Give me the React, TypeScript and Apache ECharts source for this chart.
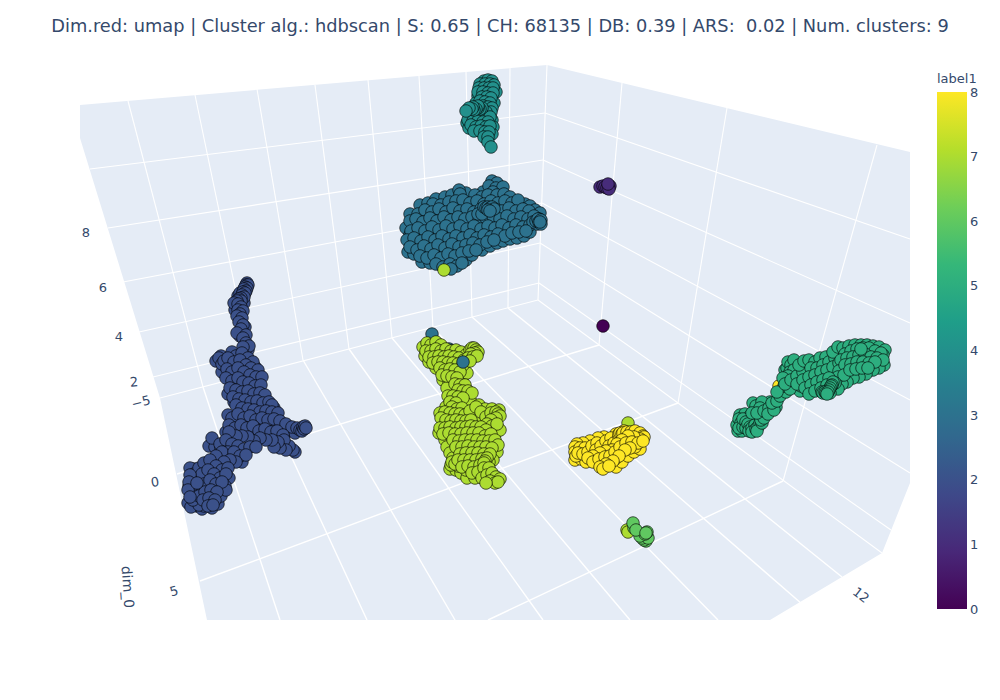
import React, { useEffect, useRef } from "react";
import * as echarts from "echarts";

const titleText = "Dim.red: umap | Cluster alg.: hdbscan | S: 0.65 | CH: 68135 | DB: 0.39 | ARS:  0.02 | Num. clusters: 9";
const viridis = ["#440154", "#482878", "#3e4989", "#31688e", "#26828e", "#1f9e89", "#35b779", "#6ece58", "#b5de2b", "#fde725"];

// Scene outline and grid in projected scene coordinates
const wallOutline = [[80,105],[547,65],[910,152],[910,483],[882,553],[770,620],[207,620],[160,398],[80,138]];
const leftWallLines = [
  [128,101,203,387],[195,95,253,374],[257,89,303,360],[315,85,349,349],[368,80,392,338],[419,76,433,328],[466,72,472,317],[510,67,508,308],[547,65,538,300],
  [90,169,545,113],[108,228,543,160],[123,282,542,203],[139,332,540,243],[153,377,539,283],[160,398,538,300],
];
const rightWallLines = [
  [622,83,599,345],[727,108,678,403],[877,145,783,481],
  [545,113,910,239],[543,160,910,323],[542,203,910,400],[540,243,910,473],[539,283,891,530],[538,300,882,553],
];
const floorLines = [
  [599,345,177,474],[678,403,200,581],[783,481,488,620],
  [203,387,280,620],[253,374,367,620],[303,360,455,620],[349,349,543,620],[392,338,630,620],[433,328,718,620],[472,317,802,604],[508,308,842,577],
];

const label0 = [[603,326]];
const label1 = [[600,187],[603,186],[605,187],[607,188],[610,186],[609,189],[608,184]];
const label2 = [
  [226,432],[233,438],[209,446],[215,447],[221,448],[218,459],[212,465],[206,468],[200,472],[194,469],[229,478],
  [216,361],[221,356],[229,364],[236,366],[243,358],[255,367],[222,372],[230,376],[236,384],[241,387],[247,378],[253,380],[259,381],[228,394],[234,402],[247,396],[259,397],[266,407],[240,412],[246,404],[252,406],[258,407],[274,408],[228,415],[235,421],[245,423],[252,422],[265,424],[271,425],[277,425],[283,429],[289,431],[295,433],[240,431],[250,433],[256,435],[262,433],[268,436],[274,436],[280,437],[228,445],[233,456],[242,462],
  [189,486],[193,492],[196,498],[200,490],[207,488],[213,486],[219,488],[225,486],[197,506],[212,508],[218,504],[221,496],[226,490],[196,476],[192,486],[198,480],[201,484],
  [238,296],[240,293],[236,306],[244,303],[235,310],[245,327],[240,336],[248,350],
  [247,283],[246,285],[248,285],[245,287],[247,288],[244,289],[246,291],[243,292],[245,293],[242,295],[244,297],[241,298],[239,299],[241,301],[237,301],[234,303],[238,304],
  [241,307],[238,310],[243,311],[240,314],[237,316],[242,318],[239,322],[243,325],[241,329],[237,333],[246,335],[243,338],[246,343],[249,346],[243,347],
  [219,358],[222,364],[224,361],[232,352],[236,356],[242,353],[248,358],[253,362],[228,358],[234,362],[240,360],[246,365],[251,368],[258,370],[227,369],[232,372],[238,368],[244,372],[250,375],[256,377],[262,377],
  [226,378],[232,381],[238,378],[243,382],[249,383],[255,386],[261,385],[230,388],[236,390],[242,392],[248,391],[254,394],[260,393],[265,395],[233,397],[239,399],[245,400],[251,402],[257,401],[263,403],[269,402],[272,405],
  [236,405],[242,408],[248,409],[254,410],[260,412],[266,411],[272,412],[278,413],
  [232,418],[238,414],[244,418],[250,416],[256,420],[262,418],[268,420],[274,419],[280,421],[286,424],[292,427],[297,428],[229,425],[235,428],[241,425],[247,428],[253,426],[259,431],[265,429],[271,432],[277,431],[283,435],
  [300,430],[302,431],[303,427],[304,429],[305,426],[306,428],
  [295,452],[293,450],[289,446],[284,440],[286,450],[280,448],[278,442],[274,447],[272,440],[266,440],[260,438],[254,441],[248,437],[242,436],[236,436],[229,432],
  [212,438],[220,444],[226,440],[232,444],[238,446],[244,449],[250,447],[256,447],[228,452],[222,452],[216,456],[234,452],[240,456],[246,455],[236,462],[230,460],[224,462],
  [190,468],[188,503],[191,507],[202,509],[204,506],[199,505],[193,500],[192,494],[191,488],[191,480],[194,474],[199,468],[204,463],[210,460],[216,466],[222,470],[228,468],
  [202,474],[208,470],[214,474],[220,478],[226,474],[198,488],[204,484],[210,480],[216,484],[222,482],[199,496],[205,492],[211,490],[217,492],[203,500],[209,498],[215,500],[208,506],[213,505],[194,484],[190,475],[189,482],[188,490],[190,497],[197,483],
];
const label3 = [
  [406,228],[408,252],[414,254],[422,262],[430,263],[466,260],[472,255],[482,250],[490,246],[497,243],[503,241],[510,239],[517,238],[524,236],[530,232],[410,214],[420,205],[428,203],[436,199],[445,197],[452,195],[466,193],[459,190],
  [413,226],[420,225],[427,224],[434,223],[441,224],[448,223],[455,223],[462,223],[469,222],[476,223],[483,222],[490,222],[497,222],[504,221],[511,222],[518,221],[525,222],[531,221],[410,235],[417,233],[424,234],[431,233],[438,234],[445,232],[452,233],[459,231],[466,232],[473,231],[480,232],[487,231],[494,231],[501,230],[508,231],[515,230],[413,243],[420,244],[427,243],[434,243],[441,242],[448,242],[455,241],[462,241],[469,240],[476,240],[483,240],[425,253],[432,252],[439,251],[446,251],[453,250],[460,250],[467,248],[474,248],[440,262],[447,260],[454,260],[461,259],[522,205],[517,206],[525,204],[530,206],[535,210],[540,213],[483,192],[500,198],[506,206],[512,214],[412,238],[414,240],[416,242],[418,244],
  [492,181],[497,183],[489,186],[496,188],[503,187],[493,192],
  [460,194],[475,195],[482,197],[488,195],[497,195],[504,194],[510,197],
  [433,204],[441,205],[449,202],[456,201],[463,200],[470,203],[477,201],[484,204],[491,201],[498,203],[505,201],[512,203],[518,200],
  [418,214],[425,210],[432,212],[439,209],[446,212],[453,208],[460,211],[467,209],[474,212],[481,209],[495,209],[502,211],[509,208],[516,211],[523,209],[529,211],
  [410,221],[416,219],[423,222],[430,218],[437,221],[444,217],[451,220],[458,217],[465,219],[472,217],[479,220],[486,218],[493,216],[500,219],[507,216],[514,219],[521,217],[528,219],[534,216],[539,219],
  [478,214],[482,214],[484,207],[486,208],[488,207],[490,208],[492,207],[494,209],[488,210],[490,211],
  [411,231],[418,228],[425,231],[432,227],[439,230],[446,226],[453,229],[460,226],[467,229],[474,226],[481,229],[488,226],[495,228],[502,225],[509,228],[516,225],[523,227],[530,225],[537,224],[533,222],[536,221],[538,219],[539,222],[541,220],[541,224],[540,222],
  [407,240],[414,238],[421,241],[428,237],[435,240],[442,236],[449,239],[456,236],[463,238],[470,235],[477,238],[484,235],[491,237],[498,234],[505,236],[512,233],[519,232],[526,231],
  [410,247],[417,250],[424,246],[431,249],[438,245],[445,248],[452,244],[459,247],[466,245],[473,243],[480,245],[487,242],[494,240],
  [420,256],[427,258],[434,255],[441,258],[448,254],[455,256],[462,253],[469,251],[476,250],
  [436,264],[443,267],[450,264],[457,266],[462,263],[451,269],
];
const label3Under = [[432,334],[449,349],[452,351]];
const label3Over = [[463,362]];
const label4 = [
  [496,92],[482,94],[478,96],[483,100],[476,103],[494,103],[492,120],[493,127],[492,134],[467,123],[469,128],
  [484,81],[488,80],[492,81],[480,84],[485,84],[490,84],[494,85],[479,88],[484,88],[489,88],[493,88],[478,92],[483,92],[488,93],[493,93],[482,97],[487,97],[491,98],[480,101],[485,102],[490,103],[483,106],[488,107],[492,108],
  [491,112],[486,112],[481,111],[476,111],[471,111],[470,115],[475,116],[480,115],[485,117],[490,117],[468,120],[473,121],[478,121],[483,122],[488,122],[471,125],[476,127],[481,126],[486,127],[490,126],[474,131],[480,131],[485,132],[489,132],[484,137],[488,137],[488,142],[491,147],
  [482,108],[480,109],[478,108],[478,106],[476,109],[474,110],[473,107],[472,109],[469,108],[466,111],
];
const label5 = [
  [740,415],[745,414],[750,416],[756,418],[763,414],[770,402],[776,407],[766,405],[738,431],[742,431],
  [884,365],[879,368],[873,370],[866,374],[859,377],[853,378],[847,382],[842,384],[838,389],[785,370],[793,387],[800,391],[830,393],[800,370],[806,367],[812,364],[818,363],[825,376],[819,378],[813,379],[807,382],[801,386],
  [737,425],[739,419],[741,423],[739,428],[743,427],[743,419],[746,422],[746,428],[748,424],[750,427],[749,431],[752,428],[755,425],[752,432],[756,429],[758,427],[760,423],[757,431],[762,423],[761,420],[764,418],
  [753,403],[756,406],[762,402],[760,408],[752,413],[757,413],[764,411],[769,408],[768,414],[774,410],[772,403],[777,401],[780,396],[786,392],[784,386],[777,392],[790,389],
  [787,368],[788,362],[791,365],[794,360],[790,372],[794,370],[788,376],[783,378],[785,384],[791,380],[797,376],[803,372],[799,365],[804,361],[809,360],[815,362],[820,358],[826,357],[811,368],[817,368],[823,365],[829,362],[835,358],
  [797,384],[803,380],[809,377],[815,375],[821,372],[827,370],[833,367],[839,363],[833,352],[838,347],[843,348],[849,346],[855,345],[861,345],[867,345],[873,346],[879,347],[885,350],[883,355],
  [845,354],[851,351],[857,349],[863,348],[869,348],[875,351],[881,353],[841,360],[847,358],[853,357],[859,355],[865,354],[871,357],[877,358],[883,360],[839,371],[845,365],[851,364],[857,362],[863,362],[869,363],[875,362],
  [838,377],[844,375],[850,370],[856,369],[862,368],[868,368],[805,388],[811,385],[817,382],[823,380],[829,378],[835,383],[809,394],[815,391],[821,388],[827,385],[833,382],
  [832,385],[831,386],[830,388],[829,390],[822,392],[823,393],[825,392],[826,393],[828,392],[827,394],[861,349],
];
const label6 = [[646,541],[644,540],[642,538],[648,538],[640,536],[645,534],[634,528],[647,532],[633,523],[636,530],[646,533]];
const label7 = [
  [425,356],[429,362],[436,368],[443,380],[449,382],[462,379],[467,373],[447,388],[467,400],[472,403],[446,407],[440,413],[439,433],[445,440],[447,447],[450,453],[453,458],[450,469],[456,470],[461,473],[467,478],[475,478],[479,405],[485,409],[492,409],[499,410],[500,430],[494,445],[497,452],[493,460],[489,462],[483,428],[476,421],[481,419],[448,424],[458,431],[469,430],[458,444],[470,450],[480,450],[464,457],[475,457],[466,470],[458,466],
  [423,347],[427,343],[431,345],[436,342],[441,345],[426,351],[431,351],[436,349],[441,351],[446,349],[451,351],[456,350],[461,352],[466,355],[429,357],[434,357],[439,356],[444,357],[449,356],[454,357],[459,358],[464,360],
  [433,363],[438,362],[443,362],[448,363],[453,363],[458,364],[463,365],[470,350],[472,348],[474,348],[476,350],[478,352],[475,353],[471,354],[468,358],[473,357],[477,356],[470,361],
  [440,368],[445,370],[442,375],[450,369],[455,370],[460,372],[447,376],[452,377],[457,378],
  [455,384],[460,385],[465,385],[458,390],[463,391],[468,391],[472,393],[448,396],[453,396],[458,397],[463,398],[450,402],[456,403],
  [452,407],[457,409],[462,408],[445,412],[450,413],[455,414],[460,414],[465,415],[470,411],[476,407],[481,412],[486,417],[491,413],[496,412],[498,414],[500,416],[496,418],[491,420],
  [441,418],[446,420],[451,421],[456,420],[461,421],[466,421],[471,420],[487,424],[492,426],[497,424],[440,428],[445,428],[450,427],[456,428],[461,427],[466,427],[471,426],[476,427],[481,427],[486,430],
  [443,434],[449,433],[455,434],[461,434],[467,433],[473,433],[479,433],[485,436],[491,434],[453,440],[459,441],[465,440],[471,440],[477,440],[483,441],[489,441],[495,440],[498,445],
  [456,447],[462,447],[468,446],[474,447],[480,447],[486,447],[492,448],[460,454],[466,453],[472,453],[478,453],[484,454],[490,454],[451,465],[452,462],[455,464],[458,460],[464,460],[470,460],[476,460],[482,459],[487,458],
  [462,467],[468,466],[474,467],[480,465],[485,461],[484,463],[472,473],[478,472],[484,468],[489,468],[482,478],[487,475],[492,473],[496,477],[500,479],[490,481],[495,483],[498,482],[486,483],
];
const label7Strays = [[628,423],[627,530],[628,532]];
const label8 = [
  [575,460],[581,459],[586,462],[616,467],[622,462],[628,456],[634,452],[640,449],[624,431],[616,434],[604,437],[598,438],[590,441],[583,443],[577,444],[591,451],[603,461],[615,459],[625,444],[635,447],
  [575,447],[575,452],[576,456],[580,448],[585,448],[578,453],[583,454],[588,452],[592,446],[597,443],[596,450],[601,446],[606,441],[611,438],[609,446],[614,443],[619,437],[619,434],[620,433],[622,434],[626,435],[630,434],
  [623,433],[627,432],[631,432],[635,431],[640,433],[643,436],[644,437],[640,439],[634,437],[628,436],[622,440],[617,444],[612,450],[606,451],[600,453],[593,456],[588,458],[593,462],[599,459],[605,457],[610,456],[615,452],[620,447],[626,443],[632,442],[638,443],[643,441],[630,448],[625,450],[619,456],[613,461],[606,464],[600,467],[603,469],[609,466],
];
const label8Strays = [[495,434],[779,386]];

const zTickLabels = ["8", "6", "4", "2"];
const zTickAnchors = [[86,232,0],[103,287,0],[119,336,0],[134,382,-5]];
const dim0TickLabels = ["\u22125", "0", "5"];
const dim0TickAnchors = [[141,402,-14],[155,482,-8],[174,591,-16]];
const frontTickLabels = ["12"];
const frontTickAnchors = [[861,595,38]];
const colorbarTicks = [0, 1, 2, 3, 4, 5, 6, 7, 8];

const TEXT = "#34496b";
const FONT = '"DejaVu Sans", Verdana, sans-serif';

const tag = (pts: number[][], label: number) => pts.map((p) => [p[0], p[1], label]);
const scatter = (pts: number[][], label: number) => ({
  type: "scatter", coordinateSystem: "cartesian2d", xAxisIndex: 0, yAxisIndex: 0,
  data: tag(pts, label), symbol: "circle", symbolSize: 12.5, silent: true, clip: false,
  itemStyle: { opacity: 1, borderColor: "rgba(0,0,0,0.8)", borderWidth: 0.8 },
});
const segments = (data: number[][], lineWidth: number) => ({
  type: "custom", coordinateSystem: "cartesian2d", xAxisIndex: 0, yAxisIndex: 0, silent: true, clip: false,
  data, encode: { x: [0, 2], y: [1, 3] },
  renderItem: (_: any, api: any) => {
    const a = api.coord([api.value(0), api.value(1)]);
    const b = api.coord([api.value(2), api.value(3)]);
    return { type: "line", shape: { x1: a[0], y1: a[1], x2: b[0], y2: b[1] }, style: { stroke: "#ffffff", lineWidth } };
  },
});
const tickText = (labels: string[], anchors: number[][]) =>
  labels.map((text, i) => ({
    type: "text", x: anchors[i][0], y: anchors[i][1], rotation: (-anchors[i][2] * Math.PI) / 180, silent: true,
    style: { text, font: `13px ${FONT}`, fill: TEXT, align: "center", verticalAlign: "middle" },
  }));

export default function App() {
  const ref = useRef<HTMLDivElement>(null);
  useEffect(() => {
    const chart = echarts.init(ref.current!, undefined, { renderer: "svg" });
    const pointSeries = [
      scatter(label0, 0), scatter(label1, 1), scatter(label4, 4), scatter(label3, 3),
      scatter(label8Strays, 8), scatter(label7Strays, 7), scatter(label3Under, 3),
      scatter(label2, 2), scatter(label7, 7), scatter(label3Over, 3),
      scatter(label5, 5), scatter(label8, 8), scatter(label6, 6),
      scatter([[444, 270]], 7),
    ];
    const base = [
      {
        type: "custom", coordinateSystem: "cartesian2d", xAxisIndex: 0, yAxisIndex: 0, silent: true, clip: false,
        data: wallOutline, encode: { x: 0, y: 1 },
        renderItem: (p: any, api: any) =>
          p.dataIndex === 0
            ? { type: "polygon", shape: { points: wallOutline.map((v) => api.coord(v)) }, style: { fill: "#E5ECF6" } }
            : null,
      },
      segments(leftWallLines, 1.1),
      segments(rightWallLines, 1.1),
      segments(floorLines, 1.4),
    ];
    const colorbar = {
      type: "bar", xAxisIndex: 1, yAxisIndex: 1, data: [8], barWidth: "100%", silent: true,
      itemStyle: {
        color: new echarts.graphic.LinearGradient(0, 1, 0, 0, viridis.map((color, i) => ({ offset: i / (viridis.length - 1), color }))),
      },
    };
    chart.setOption({
      animation: false,
      backgroundColor: "#ffffff",
      title: [
        { text: titleText, left: "center", top: 11, textStyle: { fontFamily: FONT, fontSize: 17.8, fontWeight: "normal", color: TEXT } },
        { text: "label1", left: 932, top: 67, textStyle: { fontFamily: FONT, fontSize: 13, fontWeight: "normal", color: TEXT } },
      ],
      grid: [
        { left: 0, top: 0, width: 1000, height: 700 },
        { left: 937, top: 92, width: 30, height: 517 },
      ],
      xAxis: [
        { type: "value", min: 0, max: 1000, show: false, gridIndex: 0 },
        { type: "category", data: ["label1"], show: false, gridIndex: 1 },
      ],
      yAxis: [
        { type: "value", min: 0, max: 700, inverse: true, show: false, gridIndex: 0 },
        {
          type: "value", min: colorbarTicks[0], max: colorbarTicks[colorbarTicks.length - 1], interval: 1, gridIndex: 1, position: "right",
          axisLine: { show: false }, axisTick: { show: false }, splitLine: { show: false },
          axisLabel: { margin: 3, fontFamily: FONT, fontSize: 13, color: TEXT },
        },
      ],
      visualMap: {
        show: false, type: "continuous", min: 0, max: 8, dimension: 2,
        seriesIndex: pointSeries.map((_, i) => i + base.length),
        inRange: { color: viridis },
      },
      graphic: [
        ...tickText(zTickLabels, zTickAnchors),
        ...tickText(dim0TickLabels, dim0TickAnchors),
        ...tickText(frontTickLabels, frontTickAnchors),
        {
          type: "text", x: 128, y: 587, rotation: (-86 * Math.PI) / 180, silent: true,
          style: { text: "dim_0", font: `14px ${FONT}`, fill: TEXT, align: "center", verticalAlign: "middle" },
        },
      ],
      series: [...base, ...pointSeries, colorbar],
    });
    return () => chart.dispose();
  }, []);
  return <div ref={ref} style={{ position: "absolute", left: 0, top: 0, width: 1000, height: 700 }} />;
}
